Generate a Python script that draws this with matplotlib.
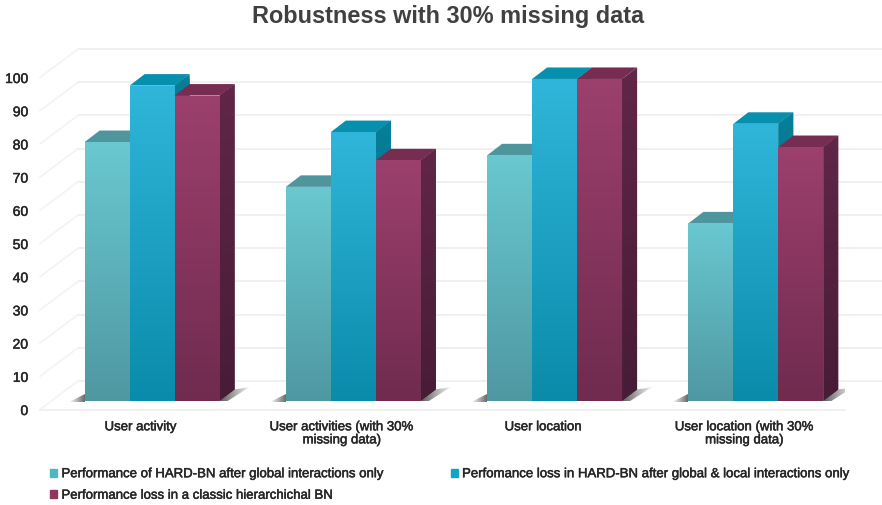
import numpy as np
import matplotlib
matplotlib.use("Agg")
import matplotlib.pyplot as plt
import matplotlib.patheffects as pe
from matplotlib.colors import LinearSegmentedColormap
from matplotlib.patches import Patch, Polygon

plt.rcParams["font.family"] = ["Liberation Sans", "DejaVu Sans"]

# Chart data
categories = [
    "User activity",
    "User activities (with 30%\nmissing data)",
    "User location",
    "User location (with 30%\nmissing data)",
]
series_names = [
    "Performance of HARD-BN after global interactions only",
    "Perfomance loss in HARD-BN after global & local interactions only",
    "Performance loss in a classic hierarchichal BN",
]
global_only = [78, 64.5, 74, 53.5]
global_local = [95, 81, 97, 83.5]
classic = [92, 72.5, 97, 76.5]
y_ticks = list(range(0, 101, 10))
title = "Robustness with 30% missing data"

# Face colours: gradient top, gradient bottom, top face, side face top, side face bottom
palette = [
    ("#69C8D0", "#4F98A2", "#4E959D", "#4E959D", "#3F7C84"),
    ("#30B6DA", "#0A8BAA", "#0790AE", "#067F9A", "#056A80"),
    ("#9C406D", "#702B4F", "#772D52", "#612648", "#471C36"),
]
legend_colors = ["#4FB6C2", "#12A5C8", "#8E3560"]
text_color = "#262626"
grid_color = "#EFEFEF"
wall_color = "#F3F3F3"
semi_bold = [pe.withStroke(linewidth=0.35, foreground=text_color)]

W, H = 882, 506
fig = plt.figure(figsize=(W / 100, H / 100), dpi=100, facecolor="white")

# Plot area is the front edge of the floor; walls and bars sit behind it
left, right, bottom_px, top_px = 40, 845, 410.5, 78.5
ax = fig.add_axes([left / W, 1 - bottom_px / H, (right - left) / W, (bottom_px - top_px) / H])
ax.set_facecolor("none")
for s in ax.spines.values():
    s.set_visible(False)

px_x = 4.0 / (right - left)            # data units per pixel, x
px_y = 100.0 / (bottom_px - top_px)    # data units per pixel, y

wall_dx, wall_dy = 38 * px_x, 28.5 * px_y
bar_dx, bar_dy = 15 * px_x, 11.5 * px_y
bar_floor = 8.5 * px_y
bar_w = 45 * px_x
bar_shift = 11.5 * px_x


def gradient_cmap(a, b):
    return LinearSegmentedColormap.from_list("g", [a, b])


def fill_gradient(patch, cmap, extent, horizontal=False, z=3):
    grad = np.linspace(0, 1, 128)
    grad = grad[None, :] if horizontal else grad[:, None]
    im = ax.imshow(grad, cmap=cmap, extent=extent, origin="upper", aspect="auto",
                   zorder=z, clip_on=True, interpolation="bilinear")
    im.set_clip_path(patch)


# Walls and gridlines
x0 = -0.5
x_back = 3.5 + 37 * px_x
for v in y_ticks:
    ax.plot([x0 + wall_dx, x_back], [v + wall_dy] * 2, color=grid_color, lw=1.3,
            clip_on=False, zorder=1, solid_capstyle="butt")
    ax.plot([x0, x0 + wall_dx], [v, v + wall_dy], color=wall_color, lw=1.2,
            clip_on=False, zorder=1)
ax.plot([x0, 3.5], [0, 0], color=grid_color, lw=1.3, clip_on=False, zorder=1)

x = np.arange(len(categories))
series = [global_only, global_local, classic]
shadow_cmap_l = LinearSegmentedColormap.from_list("sl", ["#FFFFFF", "#6A6A6A"])
shadow_cmap_r = LinearSegmentedColormap.from_list("sr", ["#5E5E5E", "#F5F5F5"])

# Floor shadows either side of each cluster
for c in x:
    x_l = c + bar_shift - 1.5 * bar_w
    x_r = c + bar_shift + 1.5 * bar_w
    y_b = bar_floor
    left_shadow = Polygon([(x_l - 16 * px_x, y_b - 1 * px_y), (x_l, y_b - 1 * px_y), (x_l, y_b + 7 * px_y)],
                          closed=True, facecolor="none", edgecolor="none", zorder=2)
    ax.add_patch(left_shadow)
    fill_gradient(left_shadow, shadow_cmap_l,
                  (x_l - 16 * px_x, x_l, y_b - 1 * px_y, y_b + 7 * px_y), horizontal=True, z=2)
    right_shadow = Polygon([(x_r, y_b), (x_r + bar_dx, y_b + bar_dy),
                            (x_r + 30 * px_x, y_b + 14 * px_y),
                            (x_r + 8 * px_x, y_b)],
                           closed=True, facecolor="none", edgecolor="none", zorder=2)
    ax.add_patch(right_shadow)
    fill_gradient(right_shadow, shadow_cmap_r,
                  (x_r, x_r + 30 * px_x, y_b, y_b + 14 * px_y), horizontal=True, z=2)

# Bars: side and top faces first, then the shaded front face
for k, (values, cols) in enumerate(zip(series, palette)):
    base_z = 3 + k * 3
    centres = x + bar_shift + (k - 1) * bar_w
    bars = ax.bar(centres, values, width=bar_w, bottom=bar_floor, color=cols[0],
                  linewidth=0, zorder=base_z + 2)
    cmap_face = gradient_cmap(cols[0], cols[1])
    cmap_side = gradient_cmap(cols[3], cols[4])
    for b, val in zip(bars, values):
        b.set_clip_on(False)
        xl, xr = b.get_x(), b.get_x() + b.get_width()
        yb, yt = b.get_y(), b.get_y() + b.get_height()
        top = Polygon([(xl, yt), (xr, yt), (xr + bar_dx, yt + bar_dy), (xl + bar_dx, yt + bar_dy)],
                      closed=True, facecolor=cols[2], edgecolor="none", zorder=base_z, clip_on=False)
        ax.add_patch(top)
        side = Polygon([(xr, yb), (xr + bar_dx, yb + bar_dy), (xr + bar_dx, yt + bar_dy), (xr, yt)],
                       closed=True, facecolor=cols[3], edgecolor="none", zorder=base_z + 1, clip_on=False)
        ax.add_patch(side)
        fill_gradient(side, cmap_side, (xr, xr + bar_dx, yb, yt + bar_dy), z=base_z + 1)
        fill_gradient(b, cmap_face, (xl, xr, yb, yt), z=base_z + 2)

ax.set_xlim(-0.5, 3.5)
ax.set_ylim(0, 100)
ax.set_yticks(y_ticks)
ax.set_yticklabels([str(v) for v in y_ticks], fontsize=10, color=text_color, path_effects=semi_bold)
ax.set_xticks(x)
ax.set_xticklabels(categories, fontsize=9.5, color=text_color, linespacing=1.12, path_effects=semi_bold)
ax.tick_params(axis="y", length=0, pad=8.5)
ax.tick_params(axis="x", length=0, pad=8.5)

fig.text(448 / W, 1 - 16 / H, title, ha="center", va="center", fontsize=16.9,
         fontweight="bold", color="#404040")

handles = [Patch(color=legend_colors[i]) for i in (0, 2, 1)]
labels = [series_names[i] for i in (0, 2, 1)]
leg = fig.legend(handles, labels, ncol=2, frameon=False, fontsize=9.5,
                 loc="upper left", bbox_to_anchor=(41 / W, 1 - 460 / H),
                 labelcolor=text_color, handlelength=0.55, handleheight=0.55,
                 handletextpad=0.3, columnspacing=5.05, labelspacing=0.72, borderpad=0.2)
for t in leg.get_texts():
    t.set_path_effects(semi_bold)

fig.savefig("out.png", dpi=100)
